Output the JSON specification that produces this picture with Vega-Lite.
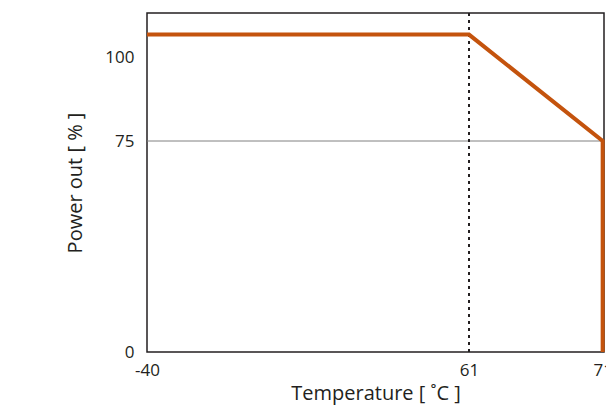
{
  "$schema": "https://vega.github.io/schema/vega-lite/v6.json",
  "autosize": {"type": "none"},
  "padding": {"left": 147, "top": 13, "right": 2, "bottom": 56},
  "width": 457,
  "height": 339,
  "background": "white",
  "config": {
    "font": "Open Sans",
    "view": {"stroke": "#231f20", "strokeWidth": 1.5},
    "axis": {"labelFont": "Open Sans", "titleFont": "Open Sans", "labelColor": "#231f20", "titleColor": "#231f20", "labelFontSize": 17, "titleFontSize": 20, "titleFontWeight": "normal", "ticks": false, "grid": false, "domain": false}
  },
  "datasets": {
    "curve": [
      {"i": 0, "temp": -40, "power": 107},
      {"i": 1, "temp": 61, "power": 107},
      {"i": 2, "temp": 71, "power": 75},
      {"i": 3, "temp": 71, "power": 0}
    ],
    "ref75": [{"power": 75}],
    "ref61": [{"temp": 61}]
  },
  "layer": [
    {
      "data": {"name": "ref75"},
      "mark": {"type": "rule", "color": "#808080", "strokeWidth": 1},
      "encoding": {
        "y": {"field": "power", "type": "quantitative", "scale": {"domain": [0, 75, 113.5], "range": [339, 128, 0]},
          "axis": {"values": [0, 75, 100], "title": "Power out [ % ]", "labelPadding": 13, "titlePadding": 19}}
      }
    },
    {
      "data": {"name": "ref61"},
      "mark": {"type": "rule", "color": "#231f20", "strokeWidth": 2, "strokeDash": [3, 4]},
      "encoding": {
        "x": {"field": "temp", "type": "quantitative", "scale": {"domain": [-40, 61, 71.1], "range": [0, 322, 457]},
          "axis": {"values": [-40, 61, 71], "labelExpr": "'' + datum.value", "title": "Temperature [ ˚C ]", "labelPadding": 10, "titlePadding": 5, "labelFlush": false}}
      }
    },
    {
      "data": {"name": "curve"},
      "mark": {"type": "line", "color": "#c4530d", "strokeWidth": 4, "strokeJoin": "miter", "strokeCap": "butt"},
      "encoding": {
        "x": {"field": "temp", "type": "quantitative", "scale": {"domain": [-40, 61, 71.1], "range": [0, 322, 457]},
          "axis": {"values": [-40, 61, 71], "labelExpr": "'' + datum.value", "title": "Temperature [ ˚C ]", "labelPadding": 10, "titlePadding": 5, "labelFlush": false}},
        "y": {"field": "power", "type": "quantitative", "scale": {"domain": [0, 75, 113.5], "range": [339, 128, 0]},
          "axis": {"values": [0, 75, 100], "title": "Power out [ % ]", "labelPadding": 13, "titlePadding": 19}},
        "order": {"field": "i", "type": "quantitative"}
      }
    }
  ]
}
